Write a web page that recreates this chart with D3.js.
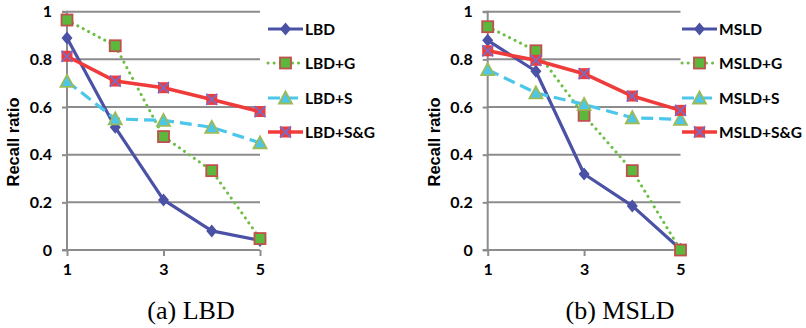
<!DOCTYPE html>
<html>
<head>
<meta charset="utf-8">
<script src="https://cdn.jsdelivr.net/npm/d3@7"></script>
<style>
  html, body { margin: 0; padding: 0; background: #fff; }
  svg { display: block; }
</style>
</head>
<body>
<svg id="chart" width="806" height="328"></svg>
<script>
// ---- data ----
const xValues = [1, 2, 3, 4, 5];
const xTickLabels = [1, 3, 5];
const yTicks = [0, 0.2, 0.4, 0.6, 0.8, 1];

const lbdNames = ["LBD", "LBD+G", "LBD+S", "LBD+S&G"];
const lbd      = [0.89, 0.515, 0.21, 0.08, 0.04];
const lbdG     = [0.965, 0.857, 0.476, 0.333, 0.048];
const lbdS     = [0.708, 0.55, 0.544, 0.515, 0.45];
const lbdSG    = [0.813, 0.709, 0.681, 0.632, 0.581];

const msldNames = ["MSLD", "MSLD+G", "MSLD+S", "MSLD+S&G"];
const msld     = [0.88, 0.75, 0.319, 0.185, 0.003];
const msldG    = [0.937, 0.836, 0.565, 0.333, 0.0];
const msldS    = [0.757, 0.659, 0.611, 0.555, 0.548];
const msldSG   = [0.836, 0.796, 0.74, 0.646, 0.586];

const yLabel = "Recall ratio";
const captions = ["(a) LBD", "(b) MSLD"];

// ---- styles ----
const styles = [
  { stroke: "#4B52A6", width: 3.2, dash: null, cap: "butt", marker: "diamond" },
  { stroke: "#6DBE45", width: 3, dash: "0.1,6", cap: "round", marker: "square" },
  { stroke: "#4CC6EA", width: 3.2, dash: "12,6", cap: "butt", marker: "triangle" },
  { stroke: "#F03B3B", width: 3.6, dash: null, cap: "butt", marker: "x" }
];

const svg = d3.select("#chart");
const tickFont = "Lato, 'Open Sans', sans-serif";

function drawMarker(g, type, cx, cy) {
  if (type === "diamond") {
    g.append("path")
      .attr("d", `M${cx},${cy-6.5}L${cx+5.5},${cy}L${cx},${cy+6.5}L${cx-5.5},${cy}Z`)
      .attr("fill", "#4B52A6");
  } else if (type === "square") {
    g.append("rect").attr("x", cx-5.5).attr("y", cy-5.5).attr("width", 11).attr("height", 11)
      .attr("fill", "#5CB83C").attr("stroke", "#C0504D").attr("stroke-width", 1.8);
  } else if (type === "triangle") {
    g.append("path")
      .attr("d", `M${cx},${cy-6.5}L${cx+6.5},${cy+5.5}L${cx-6.5},${cy+5.5}Z`)
      .attr("fill", "#4CC6EA").attr("stroke", "#9BBB59").attr("stroke-width", 1.8);
  } else if (type === "x") {
    g.append("rect").attr("x", cx-5.5).attr("y", cy-5.5).attr("width", 11).attr("height", 11)
      .attr("fill", "#F03B3B");
    g.append("path")
      .attr("d", `M${cx-5.5},${cy-5.5}L${cx+5.5},${cy+5.5}M${cx+5.5},${cy-5.5}L${cx-5.5},${cy+5.5}`)
      .attr("stroke", "#7B6BC4").attr("stroke-width", 1.8).attr("fill", "none");
  }
}

function drawChart(cfg) {
  const g = svg.append("g");
  const x = d3.scaleLinear().domain([1, 5]).range([cfg.x0, cfg.x1]);
  const y = d3.scaleLinear().domain([0, 1]).range([250, 11.7]);

  // gridlines
  g.append("g").selectAll("line").data(yTicks.filter(d => d > 0)).join("line")
    .attr("x1", cfg.x0).attr("x2", cfg.x1)
    .attr("y1", d => y(d)).attr("y2", d => y(d))
    .attr("stroke", "#8C8C8C").attr("stroke-width", 2);

  // y axis
  const ya = g.append("g").attr("transform", `translate(${cfg.x0},0)`)
    .call(d3.axisLeft(y).tickValues(yTicks).tickSize(5).tickPadding(10)
      .tickFormat(d => (d === 0 || d === 1) ? String(d) : d3.format(".1f")(d)));
  ya.select(".domain").attr("stroke", "#8C8C8C").attr("stroke-width", 2).attr("d", `M-5,250H0V11.7H-5`);
  ya.selectAll(".tick line").attr("stroke", "#8C8C8C").attr("stroke-width", 2);
  ya.selectAll(".tick text").attr("font-family", tickFont).attr("font-weight", "bold")
    .attr("font-size", 16).attr("fill", "#000");

  // x axis
  const xa = g.append("g").attr("transform", "translate(0,250)")
    .call(d3.axisBottom(x).tickValues(xTickLabels).tickSize(6).tickPadding(8).tickFormat(d3.format("d")));
  xa.select(".domain").attr("stroke", "#8C8C8C").attr("stroke-width", 2).attr("d", `M${cfg.x0},0H${cfg.x1}`);
  xa.selectAll(".tick line").attr("stroke", "#8C8C8C").attr("stroke-width", 2);
  xa.selectAll(".tick text").attr("font-family", tickFont).attr("font-weight", "bold")
    .attr("font-size", 16).attr("fill", "#000");

  // y label
  g.append("text")
    .attr("transform", `translate(${cfg.labelX},142) rotate(-90)`)
    .attr("text-anchor", "middle").attr("dy", "0.35em")
    .attr("font-family", "'Liberation Sans', Arial, sans-serif").attr("font-weight", "bold")
    .attr("font-size", 16.5).text(yLabel);

  // series lines
  const line = d3.line().x((d, i) => x(xValues[i])).y(d => y(d));
  cfg.series.forEach((s, k) => {
    const st = styles[k];
    g.append("path").datum(s).attr("d", line)
      .attr("fill", "none").attr("stroke", st.stroke).attr("stroke-width", st.width)
      .attr("stroke-dasharray", st.dash).attr("stroke-linecap", st.cap)
      .attr("stroke-linejoin", "round");
  });
  cfg.series.forEach((s, k) => {
    const mg = g.append("g");
    s.forEach((v, i) => drawMarker(mg, styles[k].marker, x(xValues[i]), y(v)));
  });

  // legend
  const rows = [29, 63, 98, 132];
  cfg.names.forEach((n, k) => {
    const st = styles[k];
    const lg = g.append("g");
    lg.append("line").attr("x1", cfg.legX).attr("x2", cfg.legX + 35)
      .attr("y1", rows[k]).attr("y2", rows[k])
      .attr("stroke", st.stroke).attr("stroke-width", st.width)
      .attr("stroke-dasharray", st.dash).attr("stroke-linecap", st.cap);
    drawMarker(lg, st.marker, cfg.legX + 17.5, rows[k]);
    lg.append("text").attr("x", cfg.legX + 37).attr("y", rows[k]).attr("dy", "0.36em")
      .attr("font-family", tickFont).attr("font-weight", "bold").attr("font-size", 15.5)
      .attr("fill", "#000").text(n);
  });

  // caption
  g.append("text").attr("x", cfg.capX).attr("y", 319).attr("text-anchor", "middle")
    .attr("font-family", "'Liberation Serif', 'Times New Roman', serif").attr("font-size", 26)
    .attr("fill", "#000").text(cfg.caption);
}

drawChart({ x0: 67, x1: 260, labelX: 13, legX: 268, capX: 191,
  series: [lbd, lbdG, lbdS, lbdSG], names: lbdNames, caption: captions[0] });
drawChart({ x0: 487.7, x1: 680.5, labelX: 434, legX: 682, capX: 620,
  series: [msld, msldG, msldS, msldSG], names: msldNames, caption: captions[1] });
</script>
</body>
</html>
